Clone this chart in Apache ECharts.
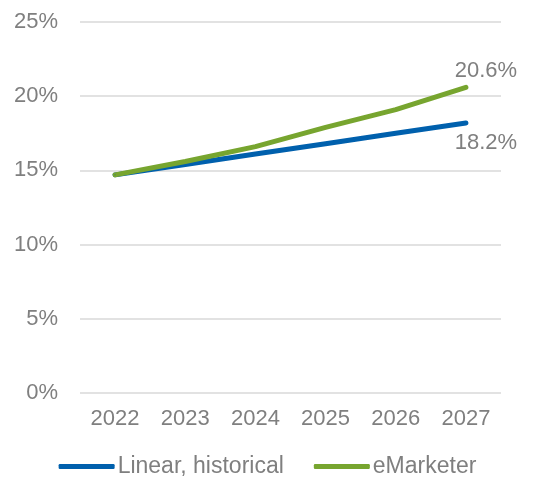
<!DOCTYPE html>
<html>
<head>
<meta charset="utf-8">
<script src="https://cdn.jsdelivr.net/npm/echarts@6/dist/echarts.min.js"></script>
<style>
  html, body { margin: 0; padding: 0; background: #fff; }
  #chart { width: 535px; height: 485px; }
</style>
</head>
<body>
<div id="chart"></div>
<script>
// data
const years = ['2022', '2023', '2024', '2025', '2026', '2027']
const linearHistorical = [14.7, 15.4, 16.1, 16.8, 17.5, 18.2]
const eMarketer = [14.7, 15.6, 16.6, 17.9, 19.1, 20.6]

const grey = '#7f7f7f'
const font = 'Liberation Sans, Arial, sans-serif'

// only the last point carries a label
function withEndLabel(values, pos, dist) {
  return values.map((v, i) => {
    if (i !== values.length - 1) return v
    return {
      value: v,
      label: {
        show: true,
        position: pos,
        distance: dist,
        offset: [20, 0],
        fontFamily: font,
        fontSize: 22,
        color: grey,
        formatter: (p) => p.value.toFixed(1) + '%',
      },
    }
  })
}

const option = {
  animation: false,
  textStyle: { fontFamily: font },
  grid: { left: 80, right: 34, top: 22, bottom: 92 },
  legend: {
    bottom: 2,
    left: 'center',
    itemWidth: 56,
    itemHeight: 5,
    itemGap: 30,
    icon: 'roundRect',
    textStyle: { fontFamily: font, fontSize: 23, color: grey, padding: [0, 0, 0, -2] },
    data: ['Linear, historical', 'eMarketer'],
  },
  xAxis: {
    type: 'category',
    data: years,
    boundaryGap: true,
    axisLine: { show: false },
    axisTick: { show: false },
    axisLabel: { color: grey, fontSize: 22, fontFamily: font, margin: 15 },
  },
  yAxis: {
    type: 'value',
    min: 0,
    max: 25,
    interval: 5,
    axisLine: { show: false },
    axisTick: { show: false },
    axisLabel: { color: grey, fontSize: 22, fontFamily: font, margin: 22, formatter: '{value}%' },
    splitLine: { lineStyle: { color: '#d9d9d9', width: 1.5 } },
  },
  series: [
    {
      name: 'Linear, historical',
      type: 'line',
      data: withEndLabel(linearHistorical, 'bottom', 9),
      symbol: 'circle',
      symbolSize: 1,
      color: '#0060ad',
      lineStyle: { width: 5, cap: 'round' },
    },
    {
      name: 'eMarketer',
      type: 'line',
      data: withEndLabel(eMarketer, 'top', 5),
      symbol: 'circle',
      symbolSize: 1,
      color: '#77a52f',
      lineStyle: { width: 5, cap: 'round' },
    },
  ],
}

const chartObj = echarts.init(document.getElementById('chart'))
chartObj.setOption(option)
</script>
</body>
</html>
